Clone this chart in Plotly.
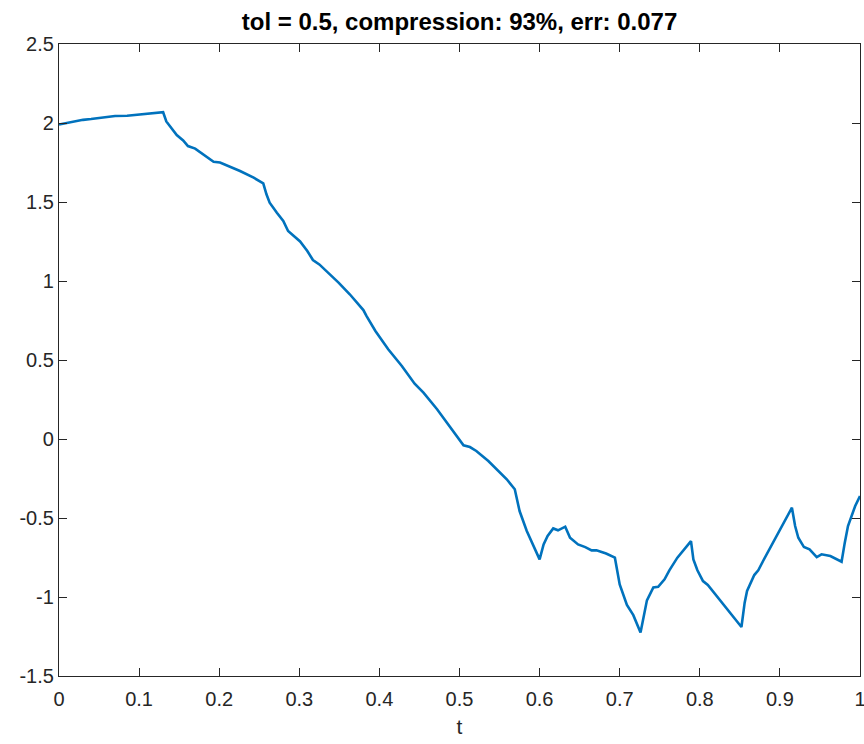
import plotly.graph_objects as go

# Sampled signal after compression
t = [0.000, 0.005, 0.018, 0.030, 0.040, 0.055, 0.070, 0.085, 0.100, 0.115,
     0.130, 0.134, 0.139, 0.147, 0.155, 0.161, 0.170, 0.180, 0.193, 0.201,
     0.209, 0.226, 0.243, 0.255, 0.259, 0.263, 0.272, 0.280, 0.286, 0.301,
     0.310, 0.317, 0.325, 0.337, 0.349, 0.363, 0.380, 0.384, 0.395, 0.411,
     0.428, 0.444, 0.455, 0.472, 0.490, 0.505, 0.513, 0.521, 0.536, 0.550,
     0.559, 0.569, 0.575, 0.584, 0.590, 0.600, 0.605, 0.610, 0.617, 0.623,
     0.632, 0.638, 0.648, 0.657, 0.665, 0.671, 0.683, 0.694, 0.700, 0.709,
     0.717, 0.726, 0.734, 0.742, 0.748, 0.756, 0.762, 0.772, 0.789, 0.792,
     0.797, 0.804, 0.810, 0.852, 0.856, 0.859, 0.868, 0.873, 0.879, 0.915,
     0.919, 0.923, 0.930, 0.937, 0.946, 0.952, 0.963, 0.977, 0.981, 0.985,
     0.994, 1.000]
y = [1.990, 1.995, 2.010, 2.020, 2.025, 2.035, 2.044, 2.046, 2.052, 2.060,
     2.068, 2.010, 1.975, 1.924, 1.890, 1.854, 1.838, 1.800, 1.755, 1.750,
     1.734, 1.696, 1.654, 1.618, 1.549, 1.496, 1.432, 1.380, 1.316, 1.250,
     1.190, 1.133, 1.105, 1.050, 0.990, 0.916, 0.816, 0.778, 0.684, 0.568,
     0.462, 0.350, 0.293, 0.188, 0.061, -0.040, -0.051, -0.076, -0.139, -0.210,
     -0.255, -0.318, -0.456, -0.582, -0.646, -0.762, -0.667, -0.614, -0.566, -0.578,
     -0.555, -0.625, -0.667, -0.684, -0.705, -0.705, -0.725, -0.751, -0.920, -1.050,
     -1.115, -1.224, -1.021, -0.940, -0.935, -0.888, -0.831, -0.751, -0.646, -0.762,
     -0.831, -0.899, -0.924, -1.190, -1.036, -0.962, -0.861, -0.831, -0.772, -0.435,
     -0.551, -0.625, -0.684, -0.698, -0.747, -0.730, -0.741, -0.777, -0.656, -0.551,
     -0.424, -0.361]

x_ticks = [0, 0.1, 0.2, 0.3, 0.4, 0.5, 0.6, 0.7, 0.8, 0.9, 1]
x_labels = ["0", "0.1", "0.2", "0.3", "0.4", "0.5", "0.6", "0.7", "0.8", "0.9", "1"]
y_ticks = [-1.5, -1, -0.5, 0, 0.5, 1, 1.5, 2, 2.5]
y_labels = ["-1.5", "-1", "-0.5", "0", "0.5", "1", "1.5", "2", "2.5"]

title_text = "tol = 0.5, compression: 93%, err: 0.077"

axis_color = "#262626"
font_family = "Liberation Sans, Arial, sans-serif"

fig = go.Figure()
fig.add_trace(go.Scatter(
    x=t, y=y, mode="lines",
    line=dict(color="#0072BD", width=2.6),
    showlegend=False, hoverinfo="skip",
))

axis_common = dict(
    showgrid=False, zeroline=False, automargin=False,
    showline=True, linecolor=axis_color, linewidth=1.2,
    mirror="ticks", ticks="inside", ticklen=8, tickwidth=1.2,
    tickcolor=axis_color, ticklabeloverflow="allow",
    tickfont=dict(family=font_family, size=20, color=axis_color),
)

fig.update_layout(
    width=864, height=744,
    margin=dict(l=59, r=4, t=44, b=68),
    paper_bgcolor="white", plot_bgcolor="white",
    title=dict(
        text="<b>" + title_text + "</b>",
        x=(59 + 860) / 2 / 864, xanchor="center",
        y=1 - 22 / 744, yanchor="middle",
        font=dict(family=font_family, size=24, color="black"),
    ),
    xaxis=dict(
        range=[0, 1], tickvals=x_ticks, ticktext=x_labels,
        ticklabelstandoff=5,
        title=dict(text="t", font=dict(family=font_family, size=21, color=axis_color), standoff=10),
        **axis_common,
    ),
    yaxis=dict(
        range=[-1.5, 2.5], tickvals=y_ticks, ticktext=y_labels,
        **axis_common,
    ),
)

fig.write_html("out.html")
